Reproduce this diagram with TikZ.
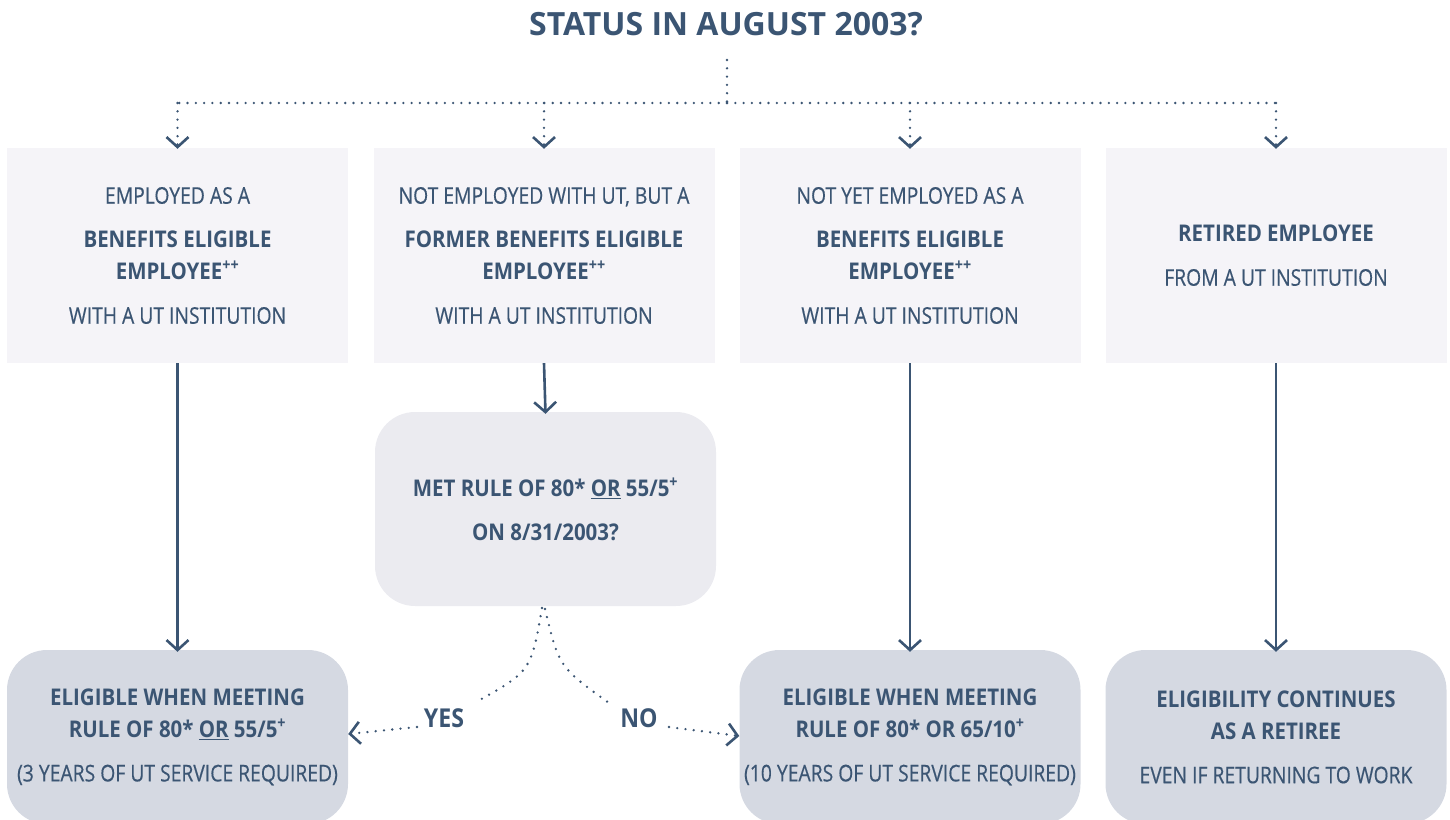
\documentclass[tikz,border=0pt]{standalone}
\usepackage{fontspec}
\usetikzlibrary{arrows.meta}
\setmainfont{Open Sans}
\newfontfamily\regfont{Open Sans}[FakeStretch=0.84,FakeBold=0.4]
\newfontfamily\bfont{Open Sans}[FakeStretch=0.89]
\newcommand{\bl}{\bfont\bfseries}
\definecolor{ink}{HTML}{3B5573}
\definecolor{topfill}{HTML}{F5F4F8}
\definecolor{midfill}{HTML}{EBEBF0}
\definecolor{botfill}{HTML}{D5D9E2}
\newcommand{\sups}[1]{\textsuperscript{#1}}
\begin{document}
\begin{tikzpicture}[x=1pt,y=-1pt,
  txt/.style={text=ink,font=\regfont\fontsize{23}{32}\selectfont,align=center},
  topbox/.style={txt,fill=topfill,draw=none,minimum width=341pt,minimum height=215pt,inner sep=0pt},
  midbox/.style={txt,fill=midfill,draw=none,rounded corners=40pt,minimum width=341pt,minimum height=194pt,inner sep=0pt},
  botbox/.style={txt,fill=botfill,draw=none,rounded corners=40pt,minimum width=341pt,minimum height=174pt,inner sep=0pt},
  answer/.style={text=ink,font=\bfont\bfseries\fontsize{26}{26}\selectfont,inner sep=0pt},
  chev/.style={-{Straight Barb[length=10pt,width=22pt,line width=2.6pt]}},
  dotline/.style={draw=ink,line width=2.6pt,line cap=round,dash pattern=on 0pt off 8.3pt},
  solidline/.style={draw=ink,line width=2.6pt}
]
\useasboundingbox (0,0) rectangle (1450,819);
\clip (0,0) rectangle (1450,819);

\node[text=ink,font=\bfseries\fontsize{32}{32}\selectfont,inner sep=0pt] (title) at (726,24) {STATUS IN AUGUST 2003?};

\node[topbox] (b1) at (177.5,255.5) {EMPLOYED AS A\\[12pt]\bl BENEFITS ELIGIBLE\\\bl EMPLOYEE\sups{++}\\[12pt]WITH A UT INSTITUTION};
\node[topbox] (b2) at (544,255.5) {NOT EMPLOYED WITH UT, BUT A\\[12pt]\bl FORMER BENEFITS ELIGIBLE\\\bl EMPLOYEE\sups{++}\\[12pt]WITH A UT INSTITUTION};
\node[topbox] (b3) at (910,255.5) {NOT YET EMPLOYED AS A\\[12pt]\bl BENEFITS ELIGIBLE\\\bl EMPLOYEE\sups{++}\\[12pt]WITH A UT INSTITUTION};
\node[topbox] (b4) at (1276,255.5) {\bl RETIRED EMPLOYEE\\[12pt]FROM A UT INSTITUTION};

\node[midbox] (q) at (545.5,509) {\bl MET RULE OF 80* \underline{OR} 55/5\sups{+}\\[12pt]\bl ON 8/31/2003?};

\node[botbox] (r1) at (177.5,737) {\bl ELIGIBLE WHEN MEETING\\\bl RULE OF 80* \underline{OR} 55/5\sups{+}\\[12pt](3 YEARS OF UT SERVICE REQUIRED)};
\node[botbox] (r3) at (910,737) {\bl ELIGIBLE WHEN MEETING\\\bl RULE OF 80* OR 65/10\sups{+}\\[12pt](10 YEARS OF UT SERVICE REQUIRED)};
\node[botbox] (r4) at (1276,737) {\bl ELIGIBILITY CONTINUES\\\bl AS A RETIREE\\[12pt]EVEN IF RETURNING TO WORK};

\node[answer] (yes) at (444,718) {YES};
\node[answer] (no) at (639,718) {NO};

% top distribution
\coordinate (ttop) at (727,60);
\coordinate (tj) at (727,103);
\draw[dotline] (ttop) -- (tj);
\draw[dotline] (tj) -- (178,103);
\draw[dotline] (tj) -- (1276,103);
\foreach \b in {b1,b2,b3,b4}{
  \draw[dotline,chev] (\b.north |- tj) -- ([yshift=-1pt]\b.north);
}

% solid arrows
\draw[solidline,chev] (b1.south) -- ([yshift=-2pt]r1.north);
\draw[solidline,chev] (b2.south) -- ([yshift=-2pt]q.north);
\draw[solidline,chev] (b3.south) -- ([yshift=-2pt]r3.north);
\draw[solidline,chev] (b4.south) -- ([yshift=-2pt]r4.north);

% yes / no branches
\coordinate (qy) at (542,608);
\coordinate (qn) at (545,609);
\coordinate (yesup) at (478,701);
\coordinate (noup) at (609,703);
\coordinate (yesl) at (417,727);
\coordinate (nor) at (669,727);
\draw[dotline] (qy) .. controls (531,671) .. (yesup);
\draw[dotline] (qn) .. controls (559,667) .. (noup);
\draw[dotline,chev] (yesl) -- (r1.east |- 0,734);
\draw[dotline,chev] (nor) -- (r3.west |- 0,736);
\end{tikzpicture}
\end{document}
